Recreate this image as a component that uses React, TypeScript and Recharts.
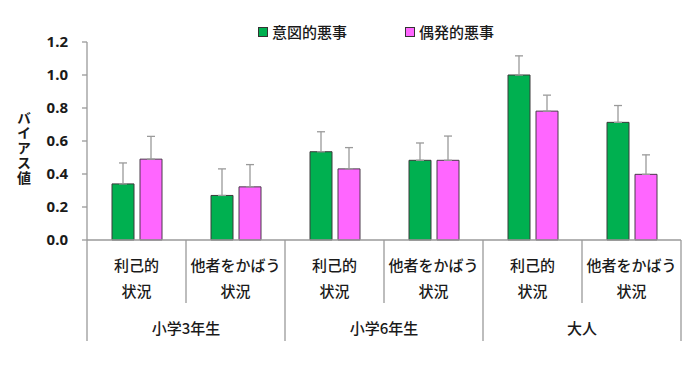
import React from 'react';
import { BarChart, Bar, XAxis, YAxis, ErrorBar } from 'recharts';

const situations = ['利己的', '他者をかばう', '利己的', '他者をかばう', '利己的', '他者をかばう'];
const groups = ['小学3年生', '小学6年生', '大人'];
const intentional = [0.34, 0.27, 0.535, 0.483, 1.0, 0.713];
const intentionalErr = [0.127, 0.161, 0.121, 0.105, 0.116, 0.102];
const accidental = [0.49, 0.322, 0.431, 0.483, 0.781, 0.398];
const accidentalErr = [0.138, 0.135, 0.129, 0.147, 0.097, 0.118];
const yTicks = [0, 0.2, 0.4, 0.6, 0.8, 1.0, 1.2];

const data = situations.map((s, i) => ({
  key: `c${i}`,
  intentional: intentional[i],
  intentionalErr: [0, intentionalErr[i]],
  accidental: accidental[i],
  accidentalErr: [0, accidentalErr[i]],
}));

const W = 700;
const H = 365;
const margin = { top: 42, right: 19, left: 0, bottom: 0 };
const Y_W = 87;
const BAND = (W - Y_W - margin.right) / situations.length;

const FONT = '"Noto Sans CJK JP", "Noto Sans", sans-serif';
const TEXT = '#1a1a1a';
const LINE = '#9a9a9a';

const CategoryTick = ({ x, y, payload }: any) => {
  const i = payload.index;
  const first = i % 2 === 0;
  const last = i === situations.length - 1;
  return (
    <g fontFamily={FONT} fontSize={15} fontWeight={500} fill={TEXT}>
      <text x={x} y={y + 24} textAnchor="middle" dominantBaseline="central">{situations[i]}</text>
      <text x={x} y={y + 50} textAnchor="middle" dominantBaseline="central">状況</text>
      <line x1={x - BAND / 2} x2={x - BAND / 2} y1={y} y2={y + (first ? 101 : 63)} stroke={LINE} strokeWidth={1.3} />
      {first && (
        <text x={x + BAND / 2} y={y + 87} textAnchor="middle" dominantBaseline="central">{groups[i / 2]}</text>
      )}
      {last && (
        <line x1={x + BAND / 2} x2={x + BAND / 2} y1={y} y2={y + 101} stroke={LINE} strokeWidth={1.3} />
      )}
    </g>
  );
};

const YLabel = () => (
  <text
    x={24}
    y={111}
    fontFamily={FONT}
    fontSize={14}
    fontWeight={700}
    fill={TEXT}
    letterSpacing={1}
    style={{ writingMode: 'vertical-rl', textOrientation: 'upright' } as any}
  >
    バイアス値
  </text>
);

const legendItems = [
  { label: '意図的悪事', color: '#00b050' },
  { label: '偶発的悪事', color: '#ff66ff' },
];

const ChartLegend = () => (
  <div
    style={{
      position: 'absolute', left: 258, top: 22, display: 'flex', alignItems: 'center',
      fontFamily: FONT, fontSize: 15, fontWeight: 500, color: TEXT, gap: 58, lineHeight: '20px',
    }}
  >
    {legendItems.map((it) => (
      <div key={it.label} style={{ display: 'flex', alignItems: 'center' }}>
        <span style={{ width: 8, height: 8, background: it.color, border: '1px solid #333', marginRight: 4, display: 'inline-block' }} />
        <span>{it.label}</span>
      </div>
    ))}
  </div>
);

export default function App() {
  return (
    <div style={{ position: 'absolute', left: 0, top: 0, width: W, height: H, background: '#fff' }}>
      <BarChart width={W} height={H} data={data} margin={margin} barSize={22} barGap={6}>
        <XAxis
          dataKey="key"
          height={125}
          interval={0}
          tickLine={false}
          tickSize={0}
          tickMargin={0}
          axisLine={{ stroke: LINE, strokeWidth: 1.3 }}
          tick={<CategoryTick />}
        />
        <YAxis
          width={Y_W}
          domain={[0, 1.2]}
          ticks={yTicks}
          interval={0}
          tickSize={5}
          tickMargin={14}
          axisLine={{ stroke: LINE, strokeWidth: 1.3 }}
          tickLine={{ stroke: LINE, strokeWidth: 1.3 }}
          tickFormatter={(v: number) => v.toFixed(1)}
          tick={{ fill: TEXT, fontSize: 15, fontWeight: 700, fontFamily: '"Noto Sans", sans-serif' }}
          label={{ content: <YLabel /> }}
        />
        <Bar dataKey="intentional" fill="#00b050" stroke="#3a3a3a" strokeWidth={1} isAnimationActive={false}>
          <ErrorBar dataKey="intentionalErr" width={4} stroke={LINE} strokeWidth={1.3} direction="y" />
        </Bar>
        <Bar dataKey="accidental" fill="#ff66ff" stroke="#4a3a4a" strokeWidth={1} isAnimationActive={false}>
          <ErrorBar dataKey="accidentalErr" width={4} stroke={LINE} strokeWidth={1.3} direction="y" />
        </Bar>
      </BarChart>
      <ChartLegend />
    </div>
  );
}
